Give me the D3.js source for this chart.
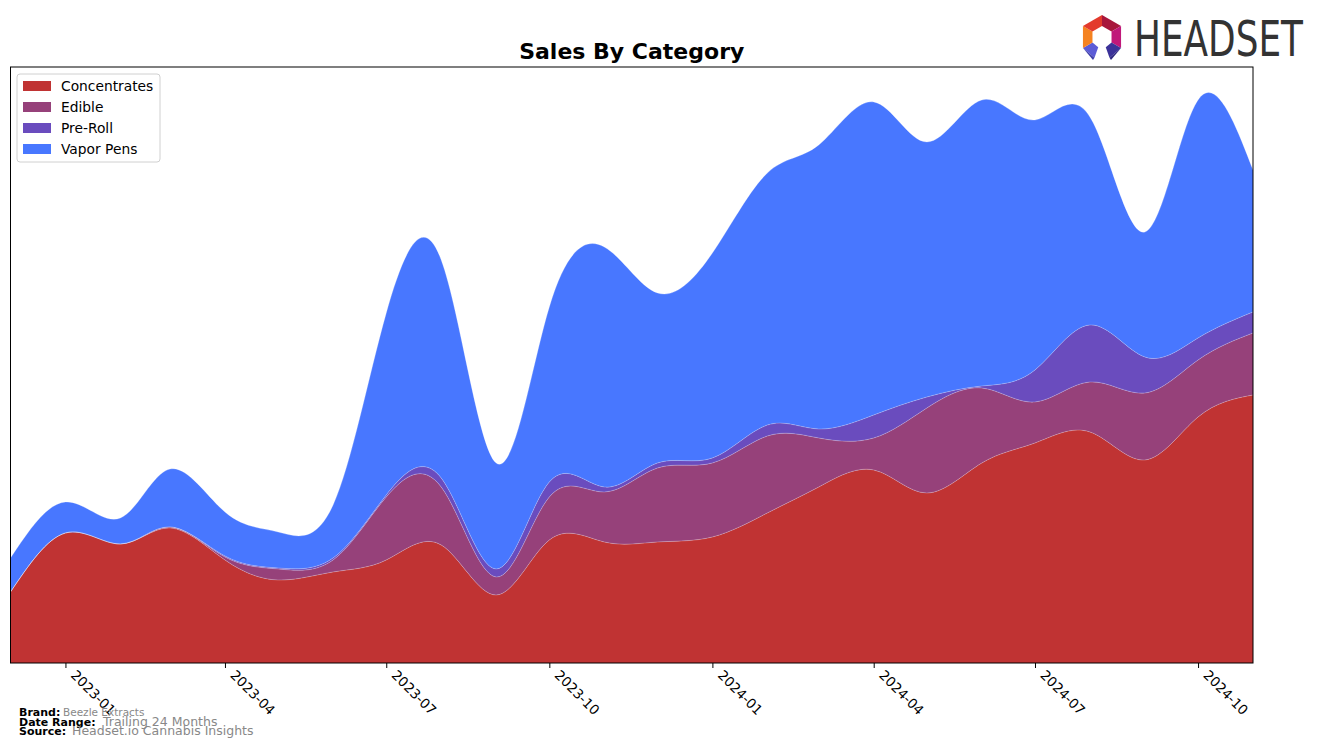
<!DOCTYPE html>
<html>
<head>
<meta charset="utf-8">
<script src="https://cdn.jsdelivr.net/npm/d3@7"></script>
<style>
body{margin:0;background:#fff}
svg{font-family:"DejaVu Sans",sans-serif}
</style>
</head>
<body>
<svg id="chart" width="1317" height="748"></svg>
<script>
// monthly data, Dec 2022 .. Nov 2024
let months=["2022-12","2023-01","2023-02","2023-03","2023-04","2023-05","2023-06","2023-07","2023-08","2023-09","2023-10","2023-11","2023-12",
"2024-01","2024-02","2024-03","2024-04","2024-05","2024-06","2024-07","2024-08","2024-09","2024-10","2024-11"]
let categories=["Concentrates","Edible","Pre-Roll","Vapor Pens"]
let concentrates=[71,130,119,135,103,83,91,103,118,68,123,121,121,126,150,176,193,170,200,220,231,203,246,268]
let edible=[0,0,0,1,3,11,12,63,58,18,43,50,74,74,77,49,32,85,75,41,50,67,57,62]
let preRoll=[0,0,0,0,1,1,2,2,9,8,15,5,5,5,11,9,23,11,2,32,57,36,22,21]
let vaporPens=[34,31,26,58,44,36,53,182,218,106,175,240,170,205,252,284,313,255,286,250,208,125,238,142]
let tickLabels=["2023-01","2023-04","2023-07","2023-10","2024-01","2024-04","2024-07","2024-10"]
let colors=["#c03333","#96417a","#6a4cbe","#4877ff"]
let yMax=596

let svg=d3.select("#chart")
let pL=10.5, pR=1253, pT=67, pB=663
let parse=d3.timeParse("%Y-%m")

let rows=months.map((m,i)=>({date:parse(m),
"Concentrates":concentrates[i],"Edible":edible[i],"Pre-Roll":preRoll[i],"Vapor Pens":vaporPens[i]}))

let x=d3.scaleTime().domain(d3.extent(rows,d=>d.date)).range([pL,pR])
let y=d3.scaleLinear().domain([0,yMax]).range([pB,pT])

let series=d3.stack().keys(categories)(rows)

let area=d3.area().curve(d3.curveNatural)
.x(d=>x(d.data.date)).y0(d=>y(d[0])).y1(d=>y(d[1]))
let edge=d3.line().curve(d3.curveNatural)
.x(d=>x(d.data.date)).y(d=>y(d[1]))

svg.append("defs").append("clipPath").attr("id","clip")
.append("rect").attr("x",pL).attr("y",pT).attr("width",pR-pL).attr("height",pB-pT)

let g=svg.append("g").attr("clip-path","url(#clip)")
g.selectAll("path.area").data(series).enter().append("path")
.attr("class","area")
.attr("fill",(d,i)=>colors[i])
.attr("d",area)
g.selectAll("path.edge").data(series).enter().append("path")
.attr("class","edge")
.attr("fill","none").attr("stroke","rgba(255,255,255,0.3)").attr("stroke-width",0.8)
.attr("d",edge)

// frame
svg.append("rect").attr("x",pL).attr("y",pT).attr("width",pR-pL).attr("height",pB-pT)
.attr("fill","none").attr("stroke","#000").attr("stroke-width",1)

// x axis
let ax=svg.append("g").attr("transform","translate(0,"+pB+")")
.call(d3.axisBottom(x).tickValues(tickLabels.map(parse)).tickFormat(d3.timeFormat("%Y-%m")).tickSize(5).tickSizeOuter(0))
ax.select(".domain").remove()
ax.selectAll(".tick line").attr("stroke","#000")
ax.selectAll(".tick text")
.attr("font-size","13.5px").attr("font-family","DejaVu Sans").attr("fill","#000")
.attr("text-anchor","start").attr("x",0).attr("y",0).attr("dy","0")
.attr("transform","translate(4,13) rotate(45)")

// title
svg.append("text").attr("x",(pL+pR)/2).attr("y",59)
.attr("text-anchor","middle").attr("font-weight","bold").attr("font-size","22px")
.text("Sales By Category")

// legend
let lg=svg.append("g").attr("transform","translate(17,74)")
lg.append("rect").attr("width",143).attr("height",88).attr("rx",3)
.attr("fill","#fff").attr("stroke","#d0d0d0")
categories.forEach((c,i)=>{
lg.append("rect").attr("x",6).attr("y",7+i*21).attr("width",28).attr("height",10).attr("fill",colors[i])
lg.append("text").attr("x",44).attr("y",17+i*21).attr("font-size","13.8px").text(c)
})

// footer
let foot=[["Brand:","Beezle Extracts",716,63,"10.5px"],["Date Range:","Trailing 24 Months",726,103,"12.5px"],["Source:","Headset.io Cannabis Insights",735,72,"12.5px"]]
foot.forEach(f=>{
svg.append("text").attr("x",19).attr("y",f[2]).attr("font-weight","bold").attr("font-size","11px").text(f[0])
svg.append("text").attr("x",f[3]).attr("y",f[2]).attr("fill","#888").attr("font-size",f[4]).text(f[1])
})

// logo
let lc=[1102,37], ro=22, ri=11
let pt=(a,r)=>[lc[0]+r*Math.cos(a*Math.PI/180),lc[1]+r*Math.sin(a*Math.PI/180)]
let segs=[[-90,-30,"#a8163c"],[-30,30,"#c0187a"],[30,70,"#3b3299"],[110,150,"#5b5bd6"],[150,210,"#f58220"],[210,270,"#e33a2c"]]
segs.forEach(s=>{
let p=[pt(s[0],ro),pt(s[1],ro),pt(s[1],ri),pt(s[0],ri)]
svg.append("polygon").attr("points",p.map(q=>q.join(",")).join(" ")).attr("fill",s[2])
})
svg.append("polygon").attr("points",[pt(110,ro),pt(150,ro),[1093,60]].map(q=>q.join(",")).join(" ")).attr("fill","#3f3fa8")
svg.append("polygon").attr("points",[pt(30,ro),pt(70,ro),[1111,60]].map(q=>q.join(",")).join(" ")).attr("fill","#2e2880")
svg.append("text").attr("x",1134).attr("y",56).attr("font-size","50px").attr("fill","#333")
.attr("textLength",169).attr("lengthAdjust","spacingAndGlyphs").text("HEADSET")
</script>
</body>
</html>
